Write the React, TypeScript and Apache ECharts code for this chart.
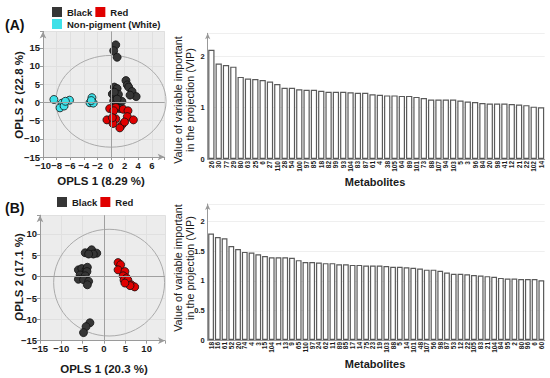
import React, { useEffect, useRef } from "react";
import * as echarts from "echarts";

const FONT = "'Liberation Sans', Arial, sans-serif";

// Panel A scores
const blackA: number[][] = [
  [0.7, 15.8], [0.4, 14.2], [0.9, 12.4], [2.2, 6.0], [2.4, 4.8], [2.6, 4.2], [3.1, 3.0], [3.7, 1.6],
  [2.8, 2.0], [0.5, 4.2], [0.9, 3.8], [0.2, 2.3], [1.1, 2.2], [0.6, 1.3], [0.4, 0.4], [0.8, -0.2],
  [1.6, 0.3], [1.3, -1.7], [0.5, 2.8], [0.9, 0.9],
];
const redA: number[][] = [
  [-0.2, -1.7], [0.7, -1.4], [0.4, -2.3], [1.8, -1.9], [2.5, -2.3], [2.4, -3.9], [3.3, -4.8],
  [-0.6, -4.8], [0.7, -4.5], [0.3, -5.8], [1.6, -6.2], [1.3, -7.0], [2.0, -5.4], [0.2, -4.2],
];
const whiteA: number[][] = [
  [-8.4, 0.8], [-7.2, -0.2], [-7.5, -1.5], [-6.9, -1.0], [-6.1, 0.6], [-6.7, 0.3],
  [-2.8, 1.3], [-3.1, -0.1], [-2.6, -0.2], [-2.9, 0.5],
];
// Panel B scores
const blackB: number[][] = [
  [-4.4, 5.6], [-3.3, 5.8], [-2.9, 6.3], [-1.7, 5.5], [-2.5, 5.3], [-3.6, 5.3],
  [-6.0, 1.6], [-5.2, 1.9], [-4.2, 1.6], [-3.9, 2.2], [-4.0, 1.2], [-5.6, 0.4], [-4.4, 0.2],
  [-6.0, -0.6], [-4.8, -0.7], [-3.6, -1.1], [-3.9, -1.9],
  [-3.3, -10.8], [-4.2, -11.7], [-4.8, -13.1],
];
const redB: number[][] = [
  [3.3, 3.3], [3.9, 2.8], [3.3, 1.6], [4.9, 1.2], [4.5, 0.2], [5.3, -0.3], [4.7, -0.8],
  [5.6, -0.8], [6.4, -1.9], [7.2, -2.4], [6.1, -2.1], [4.9, -1.5],
];
// Hotelling ellipses: [cx, cy, rx, ry]
const ellipseA = [0, 0.3, 8.1, 12.6];
const ellipseB = [1.2, -1.4, 13, 12.5];

// VIP values
const vipTopNames = ["26", "30", "77", "29", "80", "63", "25", "6", "27", "110", "28", "54", "100", "97", "85", "18", "82", "99", "93", "104", "83", "87", "61", "4", "38", "105", "64", "89", "101", "73", "88", "107", "94", "103", "5", "3", "96", "84", "20", "98", "41", "12", "21", "22", "102", "14"];
const vipTopValues = [2.13, 1.86, 1.83, 1.8, 1.6, 1.57, 1.56, 1.54, 1.51, 1.46, 1.39, 1.39, 1.36, 1.35, 1.35, 1.33, 1.31, 1.31, 1.31, 1.3, 1.29, 1.29, 1.26, 1.25, 1.24, 1.24, 1.23, 1.23, 1.21, 1.19, 1.16, 1.16, 1.16, 1.16, 1.14, 1.12, 1.11, 1.09, 1.08, 1.08, 1.08, 1.07, 1.06, 1.05, 1.02, 1.01];
const vipBottomNames = ["18", "16", "61", "52", "20", "74", "4", "3", "15", "104", "1", "13", "9", "65", "110", "97", "24", "62", "11", "89", "85", "17", "14", "75", "23", "19", "103", "88", "5", "14", "101", "48", "107", "56", "98", "87", "53", "12", "22", "105", "83", "21", "104", "84", "95", "2", "80", "96", "6", "60"];
const vipBottomValues = [1.8, 1.74, 1.72, 1.59, 1.54, 1.49, 1.48, 1.45, 1.42, 1.4, 1.4, 1.4, 1.39, 1.35, 1.32, 1.32, 1.31, 1.3, 1.3, 1.28, 1.28, 1.27, 1.27, 1.26, 1.26, 1.26, 1.25, 1.24, 1.24, 1.23, 1.22, 1.21, 1.19, 1.19, 1.17, 1.14, 1.12, 1.12, 1.11, 1.1, 1.09, 1.08, 1.07, 1.05, 1.04, 1.04, 1.03, 1.03, 1.03, 1.01];

const fmtNum = (step: number) => (v: number) => {
  const r = Math.round(v / step) * step;
  if (Math.abs(r - v) > 1e-6) return "";
  return v < 0 ? "\u2212" + Math.abs(v) : String(Math.round(v * 100) / 100);
};

function scatterAxis(grid: number, min: number, max: number, interval: number) {
  return {
    gridIndex: grid,
    type: "value",
    min,
    max,
    interval,
    axisLine: { show: true, onZero: false, symbol: ["none", "arrow"], symbolSize: [5, 7], lineStyle: { color: "#9a9a9a", width: 1 } },
    axisTick: { show: true, length: 3, lineStyle: { color: "#9a9a9a" } },
    axisLabel: { fontSize: 9.5, fontWeight: "bold", color: "#1a1a1a", fontFamily: FONT, margin: 3, formatter: fmtNum(interval) },
    splitLine: { show: true, lineStyle: { color: "#e0e0e0", width: 1 } },
  };
}

function barYAxis(grid: number, max: number, interval: number) {
  return {
    gridIndex: grid,
    type: "value",
    min: 0,
    max,
    interval,
    axisLine: { show: true, symbol: ["none", "arrow"], symbolSize: [4, 6], lineStyle: { color: "#999" } },
    axisTick: { show: false },
    axisLabel: { fontSize: 7.5, fontWeight: "bold", color: "#1a1a1a", fontFamily: FONT, margin: 3, formatter: fmtNum(interval) },
    splitLine: { show: true, lineStyle: { color: "#efefef" } },
  };
}

function barXAxis(grid: number, names: string[], fs: number) {
  return {
    gridIndex: grid,
    type: "category",
    data: names,
    axisLine: { show: true, lineStyle: { color: "#999" } },
    axisTick: { show: false },
    axisLabel: { interval: 0, rotate: 90, fontSize: fs, fontWeight: "bold", color: "#1a1a1a", fontFamily: FONT, margin: 2 },
  };
}

const ellipseSeries = (idx: number, e: number[]) => ({
  type: "custom",
  xAxisIndex: idx,
  yAxisIndex: idx,
  data: [e],
  clip: false,
  silent: true,
  z: 1,
  renderItem: (_p: any, api: any) => {
    const c = api.coord([api.value(0), api.value(1)]);
    const s = api.size([api.value(2), api.value(3)]);
    return { type: "ellipse", shape: { cx: c[0], cy: c[1], rx: s[0], ry: s[1] }, style: { fill: "none", stroke: "#aaaaaa", lineWidth: 1 } };
  },
});

const pointStyle = (color: string) => ({ color, borderColor: "#111", borderWidth: 0.8, opacity: 1 });

const text = (t: string, x: number, y: number, size: number, bold: boolean, rot = 0) => ({
  type: "text",
  x,
  y,
  rotation: rot,
  silent: true,
  style: { text: t, fill: "#1a1a1a", fontSize: size, fontWeight: bold ? "bold" : "normal", fontFamily: FONT, align: "center", verticalAlign: "middle" },
});

const legendBase = {
  itemWidth: 10, itemHeight: 10, itemGap: 3, icon: "rect", padding: 0,
  itemStyle: { borderWidth: 0 },
  textStyle: { fontSize: 9.5, fontWeight: "bold", color: "#1a1a1a", fontFamily: FONT },
};

export default function App() {
  const ref = useRef<HTMLDivElement>(null);
  useEffect(() => {
    if (!ref.current) return;
    const chart = echarts.init(ref.current, undefined, { renderer: "svg" });
    const zeroLines = {
      silent: true,
      symbol: ["none", "none"],
      label: { show: false },
      lineStyle: { color: "#a0a0a0", width: 1, type: "solid" },
      data: [{ xAxis: 0 }, { yAxis: 0 }],
    };
    const barStyle = { color: "#ffffff", borderColor: "#5a5a5a", borderWidth: 1.2 };
    const option: any = {
      animation: false,
      backgroundColor: "#fff",
      grid: [
        { left: 43, top: 31.4, width: 121.7, height: 125.6, show: true, backgroundColor: "#ececec", borderWidth: 0 },
        { left: 40, top: 215.2, width: 125, height: 125.5, show: true, backgroundColor: "#ececec", borderWidth: 0 },
        { left: 207.7, top: 33.3, width: 337, height: 125.7 },
        { left: 207.7, top: 204, width: 337, height: 136 },
      ],
      xAxis: [
        scatterAxis(0, -10, 7.9, 2),
        scatterAxis(1, -15, 14.3, 5),
        barXAxis(2, vipTopNames, 6.5),
        barXAxis(3, vipBottomNames, 6.5),
      ],
      yAxis: [
        scatterAxis(0, -15, 19.5, 5),
        scatterAxis(1, -15, 14.4, 5),
        barYAxis(2, 2.45, 1),
        barYAxis(3, 2.3, 0.5),
      ],
      legend: [
        { ...legendBase, data: ["Black", "Red"], left: 52, top: 7 },
        { ...legendBase, data: ["Non-pigment (White)"], left: 52, top: 19 },
        { ...legendBase, data: ["Black", "Red"], left: 57, top: 197 },
      ],
      series: [
        ellipseSeries(0, ellipseA),
        ellipseSeries(1, ellipseB),
        { type: "scatter", name: "Black", xAxisIndex: 0, yAxisIndex: 0, data: blackA, symbolSize: 8, itemStyle: pointStyle("#363636"), z: 3, markLine: zeroLines },
        { type: "scatter", name: "Red", xAxisIndex: 0, yAxisIndex: 0, data: redA, symbolSize: 8, itemStyle: pointStyle("#e00000"), z: 3 },
        { type: "scatter", name: "Non-pigment (White)", xAxisIndex: 0, yAxisIndex: 0, data: whiteA, symbolSize: 8, itemStyle: pointStyle("#3ee0e8"), z: 3 },
        { type: "scatter", name: "Black", xAxisIndex: 1, yAxisIndex: 1, data: blackB, symbolSize: 8, itemStyle: pointStyle("#363636"), z: 3, markLine: zeroLines },
        { type: "scatter", name: "Red", xAxisIndex: 1, yAxisIndex: 1, data: redB, symbolSize: 8, itemStyle: pointStyle("#e00000"), z: 3 },
        { type: "bar", name: "VIP A", xAxisIndex: 2, yAxisIndex: 2, data: vipTopValues, barCategoryGap: "14%", itemStyle: barStyle },
        { type: "bar", name: "VIP B", xAxisIndex: 3, yAxisIndex: 3, data: vipBottomValues, barCategoryGap: "14%", itemStyle: barStyle },
      ],
      graphic: [
        { type: "text", left: 5, top: 18, silent: true, style: { text: "(A)", fill: "#111", fontSize: 14, fontWeight: "bold", fontFamily: FONT } },
        { type: "text", left: 5, top: 201, silent: true, style: { text: "(B)", fill: "#111", fontSize: 14, fontWeight: "bold", fontFamily: FONT } },
        text("OPLS 2 (22.8 %)", 19, 95, 11.5, true, Math.PI / 2),
        text("OPLS 1 (8.29 %)", 101, 181, 11.5, true),
        text("OPLS 2 (17.1 %)", 19, 277, 11.5, true, Math.PI / 2),
        text("OPLS 1 (20.3 %)", 104, 369, 11.5, true),
        text("Value of variable important", 178, 100, 10.8, false, Math.PI / 2),
        text("in the projection (VIP)", 189.5, 100, 10.8, false, Math.PI / 2),
        text("Value of variable important", 178, 268, 10.8, false, Math.PI / 2),
        text("in the projection (VIP)", 189.5, 268, 10.8, false, Math.PI / 2),
        text("Metabolites", 375, 182, 11, true),
        text("Metabolites", 375, 364, 11, true),
      ],
    };
    chart.setOption(option);
    return () => chart.dispose();
  }, []);
  return <div ref={ref} style={{ position: "fixed", left: 0, top: 0, width: 550, height: 378 }} />;
}
